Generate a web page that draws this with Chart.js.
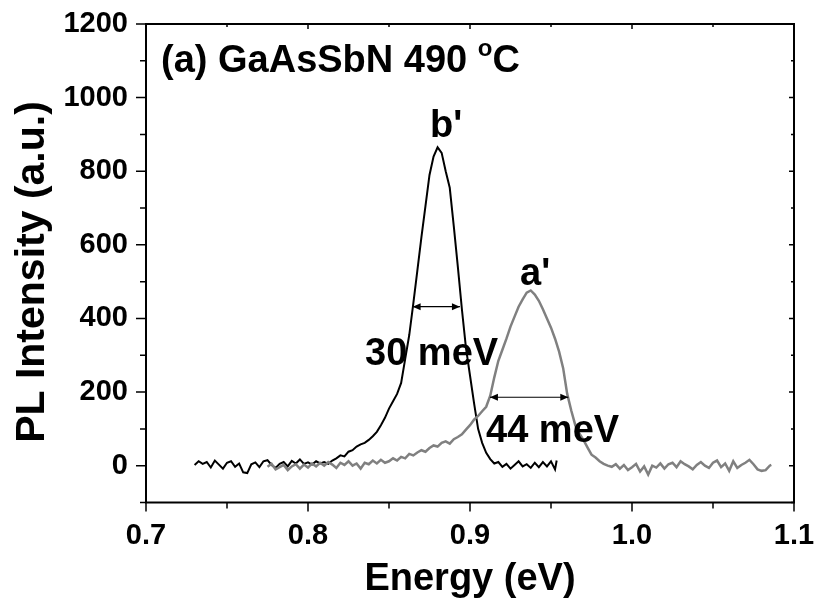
<!DOCTYPE html>
<html>
<head>
<meta charset="utf-8">
<script src="https://cdn.jsdelivr.net/npm/chart.js@4/dist/chart.umd.min.js"></script>
<style>
  body { margin: 0; background: #fff; }
  #chart { display: block; }
</style>
</head>
<body>
<canvas id="chart" width="817" height="614"></canvas>
<script>
// sample b' (black, narrow peak)
const energyB = [
  0.7300, 0.7325, 0.7350, 0.7375, 0.7400, 0.7425, 0.7450, 0.7475, 0.7500, 0.7525,
  0.7550, 0.7575, 0.7600, 0.7625, 0.7650, 0.7675, 0.7700, 0.7725, 0.7750, 0.7775,
  0.7800, 0.7825, 0.7850, 0.7875, 0.7900, 0.7925, 0.7950, 0.7975, 0.8000, 0.8025,
  0.8050, 0.8075, 0.8100, 0.8125, 0.8150, 0.8175, 0.8200, 0.8225, 0.8250, 0.8275,
  0.8300, 0.8325, 0.8350, 0.8375, 0.8400, 0.8425, 0.8450, 0.8475, 0.8500, 0.8525,
  0.8550, 0.8575, 0.8600, 0.8625, 0.8650, 0.8675, 0.8700, 0.8725, 0.8750, 0.8775,
  0.8800, 0.8825, 0.8850, 0.8875, 0.8900, 0.8925, 0.8950, 0.8975, 0.9000, 0.9025,
  0.9050, 0.9075, 0.9100, 0.9125, 0.9150, 0.9175, 0.9200, 0.9225, 0.9250, 0.9275,
  0.9300, 0.9325, 0.9350, 0.9375, 0.9400, 0.9425, 0.9450, 0.9475, 0.9500, 0.9525,
  0.9535
]
const intensityB = [
  2, 12, 5, 10, -5, 14, 3, -8, 8, 12,
  -3, 6, -18, -20, 4, 9, -4, 12, 15, 2,
  -6, 5, 10, -2, 13, 6, 17, 5, 9, 3,
  12, 6, 10, 5, 14, 20, 28, 25, 38, 42,
  52, 58, 62, 70, 80, 92, 110, 130, 155, 175,
  195, 225, 290, 355, 440, 530, 620, 705, 790, 840,
  865, 850, 800, 755, 650, 540, 425, 320, 245, 170,
  100, 62, 35, 18, 6, 10, -3, 5, -8, 2,
  12, -2, 4, -6, 8, -4, 10, -2, 12, -10,
  14
]

// sample a' (grey, wider peak)
const energyA = [
  0.7750, 0.7775, 0.7800, 0.7825, 0.7850, 0.7875, 0.7900, 0.7925, 0.7950, 0.7975,
  0.8000, 0.8025, 0.8050, 0.8075, 0.8100, 0.8125, 0.8150, 0.8175, 0.8200, 0.8225,
  0.8250, 0.8275, 0.8300, 0.8325, 0.8350, 0.8375, 0.8400, 0.8425, 0.8450, 0.8475,
  0.8500, 0.8525, 0.8550, 0.8575, 0.8600, 0.8625, 0.8650, 0.8675, 0.8700, 0.8725,
  0.8750, 0.8775, 0.8800, 0.8825, 0.8850, 0.8875, 0.8900, 0.8925, 0.8950, 0.8975,
  0.9000, 0.9025, 0.9050, 0.9075, 0.9100, 0.9125, 0.9150, 0.9175, 0.9200, 0.9225,
  0.9250, 0.9275, 0.9300, 0.9325, 0.9350, 0.9375, 0.9400, 0.9425, 0.9450, 0.9475,
  0.9500, 0.9525, 0.9550, 0.9575, 0.9600, 0.9625, 0.9650, 0.9675, 0.9700, 0.9725,
  0.9750, 0.9775, 0.9800, 0.9825, 0.9850, 0.9875, 0.9900, 0.9925, 0.9950, 0.9975,
  1.0000, 1.0025, 1.0050, 1.0075, 1.0100, 1.0125, 1.0150, 1.0175, 1.0200, 1.0225,
  1.0250, 1.0275, 1.0300, 1.0325, 1.0350, 1.0375, 1.0400, 1.0425, 1.0450, 1.0475,
  1.0500, 1.0525, 1.0550, 1.0575, 1.0600, 1.0625, 1.0650, 1.0675, 1.0700, 1.0725,
  1.0750, 1.0775, 1.0800, 1.0825, 1.0850, 1.0860
]
const intensityA = [
  -3, 5, -10, -4, 2, -12, -2, 4, -8, 3,
  -5, 6, -2, 8, 0, 10, 3, -6, 8, 2,
  12, 0, 6, -8, 8, 4, 14, 6, 16, 8,
  12, 20, 14, 24, 20, 32, 28, 36, 42, 38,
  48, 55, 52, 62, 66, 60, 72, 78, 85, 98,
  110, 125, 135, 148, 160, 190, 240, 285, 315, 345,
  378, 405, 432, 452, 470, 476, 465, 448, 425, 400,
  375, 345, 310, 265, 195, 150, 110, 88, 70, 50,
  30, 22, 12, 5, 0, -3, 4, -8, 2, -12,
  -4, 5, -16, -2, -24, 0, -5, 6, -8, 4,
  8, -4, 12, 4, -2, -10, 2, 10, 0, -6,
  8, 14, -4, 6, -14, 12, -6, 2, 8, 16,
  4, -10, -14, -12, 0, 2
]

const xTicks = [0.7, 0.8, 0.9, 1.0, 1.1]
const xMinor = [0.75, 0.85, 0.95, 1.05]
const yTicks = [0, 200, 400, 600, 800, 1000, 1200]
const yMinor = [-100, 100, 300, 500, 700, 900, 1100]

// FWHM markers: [from, to, level]
const fwhmB = [0.8646, 0.8938, 432]
const fwhmA = [0.9123, 0.9607, 186]

const FONT = "'Liberation Sans', Arial, sans-serif"

const toPoints = (xs, ys) => xs.map((x, i) => ({ x: x, y: ys[i] }))

const noScalePad = (s) => {
  s.paddingTop = 0
  s.paddingBottom = 0
  s.paddingLeft = 0
  s.paddingRight = 0
}

const arrowHead = (ctx, x, y, dir) => {
  ctx.beginPath()
  ctx.moveTo(x, y)
  ctx.lineTo(x - dir * 8, y - 3.5)
  ctx.lineTo(x - dir * 8, y + 3.5)
  ctx.closePath()
  ctx.fill()
}

const drawFwhm = (ctx, xs, ys, m) => {
  const x1 = xs.getPixelForValue(m[0])
  const x2 = xs.getPixelForValue(m[1])
  const y = ys.getPixelForValue(m[2])
  ctx.strokeStyle = '#000'
  ctx.fillStyle = '#000'
  ctx.lineWidth = 1.2
  ctx.beginPath()
  ctx.moveTo(x1, y)
  ctx.lineTo(x2, y)
  ctx.stroke()
  arrowHead(ctx, x1, y, -1)
  arrowHead(ctx, x2, y, 1)
}

const framePlugin = {
  id: 'frame',
  afterDraw(chart) {
    const ctx = chart.ctx
    const { left, right, top, bottom } = chart.chartArea
    const xs = chart.scales.x
    const ys = chart.scales.y
    ctx.save()

    // frame
    ctx.strokeStyle = '#000'
    ctx.lineWidth = 2
    ctx.strokeRect(left, top, right - left, bottom - top)

    // ticks
    ctx.lineWidth = 1.5
    ctx.beginPath()
    xTicks.forEach(v => {
      const px = xs.getPixelForValue(v)
      ctx.moveTo(px, bottom); ctx.lineTo(px, bottom + 9)
      ctx.moveTo(px, top); ctx.lineTo(px, top + 5)
    })
    xMinor.forEach(v => {
      const px = xs.getPixelForValue(v)
      ctx.moveTo(px, bottom); ctx.lineTo(px, bottom + 6)
      ctx.moveTo(px, top); ctx.lineTo(px, top + 3)
    })
    yTicks.forEach(v => {
      const py = ys.getPixelForValue(v)
      ctx.moveTo(left, py); ctx.lineTo(left - 10, py)
      ctx.moveTo(right, py); ctx.lineTo(right - 5, py)
    })
    yMinor.forEach(v => {
      const py = ys.getPixelForValue(v)
      ctx.moveTo(left, py); ctx.lineTo(left - 6, py)
      ctx.moveTo(right, py); ctx.lineTo(right - 3, py)
    })
    ctx.stroke()

    // FWHM arrows
    drawFwhm(ctx, xs, ys, fwhmB)
    drawFwhm(ctx, xs, ys, fwhmA)

    // labels
    ctx.fillStyle = '#000'
    ctx.textBaseline = 'alphabetic'
    ctx.textAlign = 'left'
    ctx.font = 'bold 38px ' + FONT
    ctx.fillText("b'", xs.getPixelForValue(0.8753), ys.getPixelForValue(893))
    ctx.fillText("a'", xs.getPixelForValue(0.9309), ys.getPixelForValue(490))
    ctx.fillText('30 meV', xs.getPixelForValue(0.8352), ys.getPixelForValue(274))
    ctx.fillText('44 meV', xs.getPixelForValue(0.9099), ys.getPixelForValue(65))

    // panel title
    const t1 = '(a) GaAsSbN 490 '
    ctx.fillText(t1, left + 15, top + 48)
    const w1 = ctx.measureText(t1).width
    ctx.font = 'bold 24px ' + FONT
    ctx.fillText('o', left + 15 + w1, top + 32)
    const w2 = ctx.measureText('o').width
    ctx.font = 'bold 38px ' + FONT
    ctx.fillText('C', left + 15 + w1 + w2, top + 48)

    // axis titles
    ctx.textAlign = 'center'
    ctx.fillText('Energy (eV)', (left + right) / 2, 590)
    ctx.save()
    ctx.translate(44, 272)
    ctx.rotate(-Math.PI / 2)
    ctx.font = 'bold 41px ' + FONT
    ctx.fillText('PL Intensity (a.u.)', 0, 0)
    ctx.restore()

    ctx.restore()
  }
}

const config = {
  type: 'scatter',
  data: {
    datasets: [{
      label: "a'",
      data: toPoints(energyA, intensityA),
      showLine: true,
      borderColor: '#808080',
      borderWidth: 2.5,
      pointRadius: 0,
      tension: 0
    }, {
      label: "b'",
      data: toPoints(energyB, intensityB),
      showLine: true,
      borderColor: '#000',
      borderWidth: 2,
      pointRadius: 0,
      tension: 0
    }]
  },
  options: {
    responsive: false,
    animation: false,
    layout: { padding: { left: 0, top: 24, right: 23, bottom: 0 } },
    plugins: {
      legend: { display: false },
      tooltip: { enabled: false }
    },
    scales: {
      x: {
        type: 'linear',
        min: 0.7,
        max: 1.1,
        grid: { display: false, drawTicks: false },
        border: { display: false },
        afterFit: (s) => { s.height = 111.5; noScalePad(s) },
        afterBuildTicks: (s) => { s.ticks = xTicks.map(v => ({ value: v })) },
        ticks: {
          color: '#000',
          padding: 16,
          maxRotation: 0,
          font: { family: FONT, size: 29, weight: 'bold' },
          callback: (v) => v.toFixed(1)
        }
      },
      y: {
        type: 'linear',
        min: -100,
        max: 1200,
        grid: { display: false, drawTicks: false },
        border: { display: false },
        afterFit: (s) => { s.width = 146; noScalePad(s) },
        afterBuildTicks: (s) => { s.ticks = yTicks.map(v => ({ value: v })) },
        ticks: {
          color: '#000',
          padding: 18,
          font: { family: FONT, size: 29, weight: 'bold' },
          callback: (v) => String(v)
        }
      }
    }
  },
  plugins: [framePlugin]
}

const mychart = new Chart(document.getElementById('chart').getContext('2d'), config)
</script>
</body>
</html>
